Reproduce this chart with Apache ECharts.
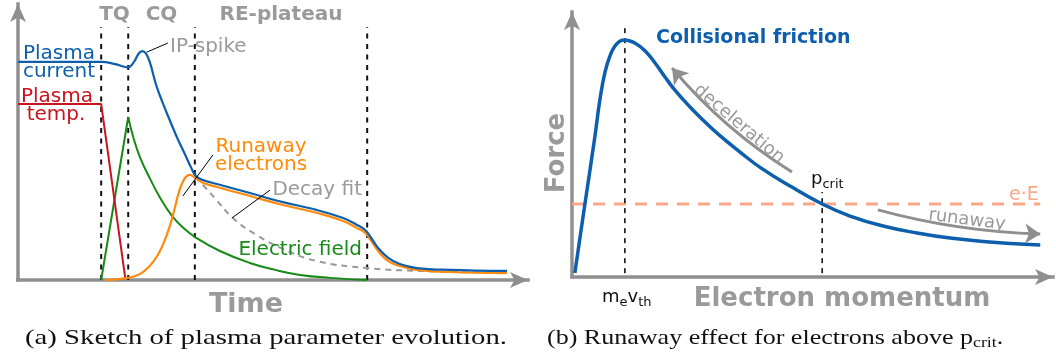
<!DOCTYPE html>
<html>
<head>
<meta charset="utf-8">
<script src="https://cdn.jsdelivr.net/npm/echarts@6/dist/echarts.min.js"></script>
<style>
  html, body { margin: 0; padding: 0; background: #ffffff; }
  #chart { width: 1056px; height: 361px; }
</style>
</head>
<body>
<div id="chart"></div>
<script>
// ---------- (a) plasma parameter evolution: time and amplitude in arbitrary units (0-100)
const phaseNames = ['TQ', 'CQ', 'RE-plateau'];
const phaseBounds = [16.6, 22.0, 35.3, 69.7];
const phaseTop = 95.1;

const plasmaCurrent = [[0, 82.0], [16.6, 82.0], [19.4, 81.2], [21.2, 80.2], [22.0, 80.0], [22.7, 80.9], [23.4, 82.8],
  [24.1, 85.2], [24.8, 86.1], [25.5, 85.3], [26.3, 82.0], [27.7, 72.6], [29.7, 62.8], [31.7, 53.8], [33.3, 47.4],
  [34.5, 42.5], [35.5, 39.1], [36.9, 37.6], [39.7, 36.1], [46.3, 32.7], [52.9, 29.3], [59.7, 26.3], [64.9, 23.3],
  [67.7, 20.7], [69.3, 18.8], [70.5, 15.8], [71.9, 12.0], [73.9, 8.3], [76.2, 6.0], [79.6, 4.5], [86.2, 3.8],
  [97.6, 3.4]];
const plasmaTemp = [[0, 66.2], [16.6, 66.2], [21.4, 0.8]];
const runawayCurrent = [[17.4, 0], [22.0, 0.8], [24.4, 2.3], [26.3, 5.3], [27.9, 9.4], [29.3, 15.0], [30.3, 20.3],
  [31.1, 25.6], [31.9, 31.6], [32.7, 36.1], [33.5, 38.7], [34.3, 39.5], [35.3, 38.5], [36.9, 36.6], [39.7, 35.0],
  [46.3, 31.6], [52.9, 28.2], [59.7, 25.2], [64.9, 22.2], [67.7, 19.5], [69.3, 17.7], [70.5, 14.7], [71.9, 10.9],
  [73.9, 7.1], [76.2, 5.3], [79.6, 3.8], [86.2, 3.0], [97.6, 2.6]];
const decayFit = [[35.3, 38.7], [37.3, 35.0], [39.3, 30.8], [42.9, 23.3], [47.3, 17.3], [52.9, 11.7], [59.7, 7.1],
  [69.7, 4.5], [80.2, 3.4], [97.6, 2.6]];
const fieldRise = [[16.6, 0], [22.0, 61.3]];
const fieldDecay = [[22.0, 61.3], [23.0, 53.8], [24.4, 45.9], [26.3, 38.3], [28.5, 30.5], [30.9, 23.7], [33.1, 19.5],
  [35.3, 16.2], [40.3, 10.9], [46.3, 6.4], [51.3, 3.8], [56.3, 1.9], [62.3, 0.8], [69.7, 0]];
const leaderSpike = [[25.7, 85.7], [29.9, 89.1]];
const leaderRunaway = [[32.9, 31.6], [38.9, 47.0]];
const leaderFit = [[42.7, 23.3], [50.3, 33.8]];

// ---------- (b) collisional friction force vs electron momentum (arbitrary units, 0-100)
const friction = [[0.6, 1.6], [2.8, 29.3], [4.9, 55.5], [5.9, 69.1], [7.0, 80.1], [8.1, 86.7], [9.1, 90.2],
  [10.2, 92.2], [11.2, 92.6], [13.3, 91.4], [15.5, 88.3], [17.6, 83.6], [19.7, 78.1], [21.8, 73.0], [25.0, 66.4],
  [28.2, 60.5], [31.4, 55.1], [35.6, 48.8], [40.0, 42.6], [46.2, 35.5], [53.0, 28.5], [58.9, 23.8], [65.9, 19.9],
  [73.1, 17.2], [80.1, 15.2], [87.1, 13.9], [99.2, 12.5]];
const thermalMomentum = 11.2;
const thermalTop = 97.3;
const criticalMomentum = 53.0;
const criticalTop = 33.2;
const electricForce = 28.5;
const forceLineEnd = 99.2;
const decelerationArrow = [[46.6, 41.0], [21.2, 81.6]];
const runawayArrow = [[64.8, 26.2], [99.2, 16.8]];

// ---------- colours
const BLUE = '#0d5fad', RED = '#c8141c', GREEN = '#178a17', ORANGE = '#ff8a0c';
const GRAY_TXT = '#9a9a9a', GRAY_AX = '#8f8f8f', SALMON = '#fba789';
const SANS = '"DejaVu Sans"', SERIF = '"Liberation Serif"';

const chart = echarts.init(document.getElementById('chart'), null, { renderer: 'canvas' });

// axes run a little past the data range so the arrow heads sit beyond the curves
function axis(gridIndex, max) {
  return {
    type: 'value', gridIndex, min: 0, max,
    axisLine: { show: true, onZero: false, symbol: ['none', 'arrow'], symbolSize: [12, 18],
      lineStyle: { color: GRAY_AX, width: 3.5, cap: 'square' } },
    axisTick: { show: false }, axisLabel: { show: false }, splitLine: { show: false }
  };
}

function curve(g, data, color, width, extra) {
  return Object.assign({
    type: 'line', xAxisIndex: g, yAxisIndex: g, data, symbol: 'none', silent: true,
    animation: false, lineStyle: { color, width }
  }, extra || {});
}

const SMOOTH = 0.45;
const series = [];
// phase boundaries
phaseBounds.forEach(t => series.push(curve(0, [[t, 0], [t, phaseTop]], '#111', 2,
  { lineStyle: { color: '#111', width: 2, type: [5, 5.5] } })));
series.push(curve(0, decayFit, '#999', 2, { smooth: SMOOTH, lineStyle: { color: '#999', width: 2, type: [6, 5] } }));
series.push(curve(0, fieldRise, GREEN, 2));
series.push(curve(0, fieldDecay, GREEN, 2, { smooth: SMOOTH }));
series.push(curve(0, plasmaTemp, RED, 2));
series.push(curve(0, runawayCurrent, ORANGE, 2.2, { smooth: SMOOTH }));
series.push(curve(0, plasmaCurrent, BLUE, 2.2, { smooth: 0.4 }));
[leaderSpike, leaderRunaway, leaderFit].forEach(d => series.push(curve(0, d, '#000', 1)));

// panel b
series.push(curve(1, [[0, electricForce], [forceLineEnd, electricForce]], SALMON, 3,
  { lineStyle: { color: SALMON, width: 3, type: [12, 9] } }));
series.push(curve(1, [[thermalMomentum, 1.5], [thermalMomentum, thermalTop]], '#111', 1.6,
  { lineStyle: { color: '#111', width: 1.6, type: [5, 5] } }));
series.push(curve(1, [[criticalMomentum, 1.5], [criticalMomentum, criticalTop]], '#111', 1.6,
  { lineStyle: { color: '#111', width: 1.6, type: [5, 5] } }));
series.push(curve(1, friction, BLUE, 3.5, { smooth: SMOOTH }));
[[decelerationArrow, 0.08], [runawayArrow, -0.06]].forEach(([coords, c]) => series.push({
  type: 'lines', coordinateSystem: 'cartesian2d', xAxisIndex: 1, yAxisIndex: 1, silent: true, animation: false,
  symbol: ['none', 'arrow'], symbolSize: 15,
  lineStyle: { color: GRAY_AX, width: 3, opacity: 1, curveness: c },
  data: [{ coords }]
}));

// ---------- text helpers
const ctx = document.createElement('canvas').getContext('2d');
function textWidth(str, font) { ctx.font = font; return ctx.measureText(str).width; }
function fontOf(o) { return (o.weight || 'normal') + ' ' + o.size + 'px ' + (o.family || SANS); }
// text anchored on its baseline (or on its centre when mid is given)
function label(x, baseline, text, o) {
  const size = o.size || 20;
  const y = o.mid !== undefined ? o.mid : baseline - 0.25 * size;
  const al = o.align || 'left';
  return {
    type: 'text', x, y, rotation: o.rot || 0, scaleX: o.sx || 1, silent: true, z: 100,
    style: { text, font: fontOf(Object.assign({ size }, o)), fill: o.color || GRAY_TXT,
      align: al, textAlign: al, verticalAlign: 'middle', textVerticalAlign: 'middle' }
  };
}
function runs(x0, baseline, parts, sx) {
  const out = [];
  let x = x0;
  sx = sx || 1;
  parts.forEach(p => {
    out.push(label(x, baseline + (p.dy || 0), p.text, Object.assign({ sx }, p)));
    x += textWidth(p.text, fontOf(p)) * sx;
  });
  return out;
}

const graphics = [];
// panel a texts
const phaseCenters = [114.5, 161.5, 281];
phaseNames.forEach((n, i) => graphics.push(label(phaseCenters[i], 20, n, { size: 20, weight: 'bold', align: 'center' })));
graphics.push(label(59, 59, 'Plasma', { color: BLUE, align: 'center' }));
graphics.push(label(59, 77, 'current', { color: BLUE, align: 'center' }));
graphics.push(label(57, 102, 'Plasma', { color: RED, align: 'center' }));
graphics.push(label(56, 120, 'temp.', { color: RED, align: 'center' }));
graphics.push(label(170, 52, 'IP-spike', { color: GRAY_TXT }));
graphics.push(label(261, 152, 'Runaway', { color: ORANGE, align: 'center' }));
graphics.push(label(261, 170, 'electrons', { color: ORANGE, align: 'center' }));
graphics.push(label(362, 195, 'Decay fit', { color: GRAY_TXT, align: 'right' }));
graphics.push(label(362, 255, 'Electric field', { color: GREEN, align: 'right' }));
graphics.push(label(246, 312, 'Time', { size: 27, weight: 'bold', align: 'center' }));

// panel b texts
graphics.push(label(557, 0, 'Force', { size: 26, weight: 'bold', align: 'center', mid: 153, rot: Math.PI / 2 }));
graphics.push(label(656, 43, 'Collisional friction', { size: 19, weight: 'bold', color: BLUE }));
graphics.push(label(739, 0, 'deceleration', { size: 18, align: 'center', mid: 124, rot: -0.70 }));
graphics.push(label(967, 0, 'runaway', { size: 18, align: 'center', mid: 220, rot: -0.13 }));
graphics.push(label(1009, 200, 'e\u00b7E', { size: 19, color: SALMON }));
graphics.push(...runs(811, 184, [
  { text: 'p', size: 18, color: '#111' }, { text: 'crit', size: 13, color: '#111', dy: 4 }]));
graphics.push(...runs(602, 302, [
  { text: 'm', size: 18, color: '#111' }, { text: 'e', size: 13, color: '#111', dy: 4 },
  { text: 'v', size: 18, color: '#111' }, { text: 'th', size: 13, color: '#111', dy: 4 }]));
graphics.push(label(842, 306, 'Electron momentum', { size: 26, weight: 'bold', align: 'center' }));

// captions
const capA = '(a) Sketch of plasma parameter evolution.';
const capFont = { size: 22, family: SERIF, color: '#111' };
const sxA = (507 - 25) / textWidth(capA, fontOf(capFont));
graphics.push(...runs(25, 344, [Object.assign({ text: capA }, capFont)], sxA));
const capB = '(b) Runaway effect for electrons above ';
const sxB = (960 - 547) / textWidth(capB, fontOf(capFont));
graphics.push(...runs(547, 344, [
  Object.assign({ text: capB }, capFont), Object.assign({ text: 'p' }, capFont),
  Object.assign({}, capFont, { text: 'crit', size: 15, dy: 3 }), Object.assign({ text: '.' }, capFont)], sxB));

chart.setOption({
  animation: false,
  backgroundColor: '#ffffff',
  grid: [
    { left: 18, top: 4, width: 510, height: 276 },
    { left: 572, top: 12, width: 481, height: 265 }
  ],
  xAxis: [axis(0, 101.8), axis(1, 101.9)],
  yAxis: [axis(0, 103.8), axis(1, 103.5)],
  series,
  graphic: graphics
});
</script>
</body>
</html>
